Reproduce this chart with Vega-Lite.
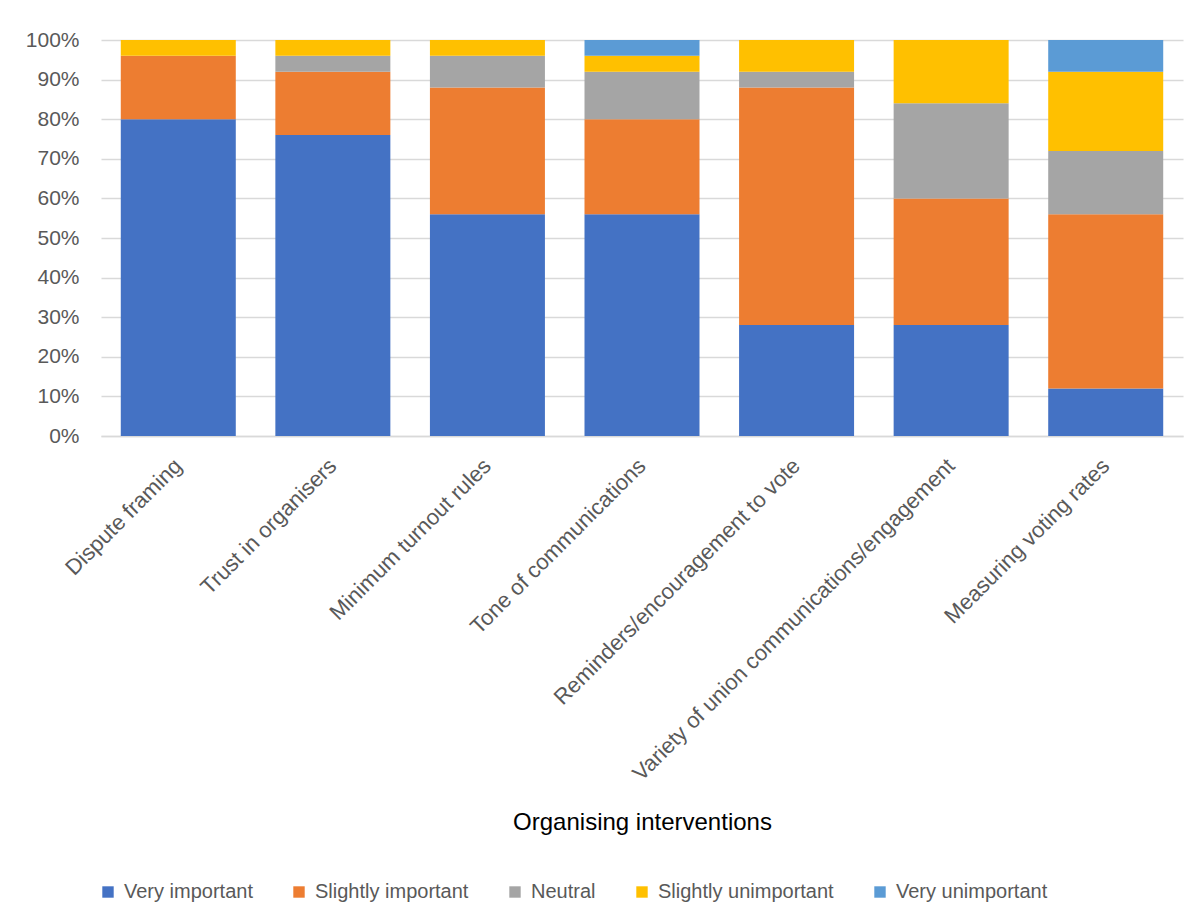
{
  "$schema": "https://vega.github.io/schema/vega-lite/v6.json",
  "width": 1082,
  "height": 396,
  "autosize": {"type": "none"},
  "padding": {"left": 101, "top": 40, "right": 17, "bottom": 488},
  "background": "white",
  "data": {
    "values": [
      {"intervention": "Dispute framing", "rating": "Very important", "k": 1, "pct": 80},
      {"intervention": "Dispute framing", "rating": "Slightly important", "k": 2, "pct": 16},
      {"intervention": "Dispute framing", "rating": "Neutral", "k": 3, "pct": 0},
      {"intervention": "Dispute framing", "rating": "Slightly unimportant", "k": 4, "pct": 4},
      {"intervention": "Dispute framing", "rating": "Very unimportant", "k": 5, "pct": 0},
      {"intervention": "Trust in organisers", "rating": "Very important", "k": 1, "pct": 76},
      {"intervention": "Trust in organisers", "rating": "Slightly important", "k": 2, "pct": 16},
      {"intervention": "Trust in organisers", "rating": "Neutral", "k": 3, "pct": 4},
      {"intervention": "Trust in organisers", "rating": "Slightly unimportant", "k": 4, "pct": 4},
      {"intervention": "Trust in organisers", "rating": "Very unimportant", "k": 5, "pct": 0},
      {"intervention": "Minimum turnout rules", "rating": "Very important", "k": 1, "pct": 56},
      {"intervention": "Minimum turnout rules", "rating": "Slightly important", "k": 2, "pct": 32},
      {"intervention": "Minimum turnout rules", "rating": "Neutral", "k": 3, "pct": 8},
      {"intervention": "Minimum turnout rules", "rating": "Slightly unimportant", "k": 4, "pct": 4},
      {"intervention": "Minimum turnout rules", "rating": "Very unimportant", "k": 5, "pct": 0},
      {"intervention": "Tone of communications", "rating": "Very important", "k": 1, "pct": 56},
      {"intervention": "Tone of communications", "rating": "Slightly important", "k": 2, "pct": 24},
      {"intervention": "Tone of communications", "rating": "Neutral", "k": 3, "pct": 12},
      {"intervention": "Tone of communications", "rating": "Slightly unimportant", "k": 4, "pct": 4},
      {"intervention": "Tone of communications", "rating": "Very unimportant", "k": 5, "pct": 4},
      {"intervention": "Reminders/encouragement to vote", "rating": "Very important", "k": 1, "pct": 28},
      {"intervention": "Reminders/encouragement to vote", "rating": "Slightly important", "k": 2, "pct": 60},
      {"intervention": "Reminders/encouragement to vote", "rating": "Neutral", "k": 3, "pct": 4},
      {"intervention": "Reminders/encouragement to vote", "rating": "Slightly unimportant", "k": 4, "pct": 8},
      {"intervention": "Reminders/encouragement to vote", "rating": "Very unimportant", "k": 5, "pct": 0},
      {"intervention": "Variety of union communications/engagement", "rating": "Very important", "k": 1, "pct": 28},
      {"intervention": "Variety of union communications/engagement", "rating": "Slightly important", "k": 2, "pct": 32},
      {"intervention": "Variety of union communications/engagement", "rating": "Neutral", "k": 3, "pct": 24},
      {"intervention": "Variety of union communications/engagement", "rating": "Slightly unimportant", "k": 4, "pct": 16},
      {"intervention": "Variety of union communications/engagement", "rating": "Very unimportant", "k": 5, "pct": 0},
      {"intervention": "Measuring voting rates", "rating": "Very important", "k": 1, "pct": 12},
      {"intervention": "Measuring voting rates", "rating": "Slightly important", "k": 2, "pct": 44},
      {"intervention": "Measuring voting rates", "rating": "Neutral", "k": 3, "pct": 16},
      {"intervention": "Measuring voting rates", "rating": "Slightly unimportant", "k": 4, "pct": 20},
      {"intervention": "Measuring voting rates", "rating": "Very unimportant", "k": 5, "pct": 8}
    ]
  },
  "mark": {"type": "bar"},
  "encoding": {
    "x": {
      "field": "intervention",
      "type": "nominal",
      "sort": ["Dispute framing", "Trust in organisers", "Minimum turnout rules", "Tone of communications", "Reminders/encouragement to vote", "Variety of union communications/engagement", "Measuring voting rates"],
      "scale": {"paddingInner": 0.256, "paddingOuter": 0.128},
      "axis": {
        "title": "Organising interventions",
        "titleFont": "Liberation Sans",
        "titleFontSize": 24,
        "titleFontWeight": "normal",
        "titleColor": "#000000",
        "titleBaseline": "middle",
        "titleY": 386,
        "labelAngle": -45,
        "labelAlign": "right",
        "labelBaseline": "middle",
        "labelFont": "Liberation Sans",
        "labelFontSize": 22,
        "labelColor": "#595959",
        "labelPadding": 26,
        "labelLimit": 600,
        "ticks": false,
        "domainColor": "#D9D9D9",
        "domainWidth": 1.5
      }
    },
    "y": {
      "field": "pct",
      "type": "quantitative",
      "stack": "normalize",
      "scale": {"domain": [0, 1]},
      "axis": {
        "title": null,
        "format": ".0%",
        "values": [0, 0.1, 0.2, 0.3, 0.4, 0.5, 0.6, 0.7, 0.8, 0.9, 1],
        "labelFont": "Liberation Sans",
        "labelFontSize": 21,
        "labelColor": "#595959",
        "labelPadding": 22,
        "ticks": false,
        "domain": false,
        "grid": true,
        "gridColor": "#D9D9D9",
        "gridWidth": 1.5
      }
    },
    "color": {
      "field": "rating",
      "type": "nominal",
      "scale": {
        "domain": ["Very important", "Slightly important", "Neutral", "Slightly unimportant", "Very unimportant"],
        "range": ["#4472C4", "#ED7D31", "#A5A5A5", "#FFC000", "#5B9BD5"]
      },
      "legend": {
        "title": null,
        "orient": "none",
        "direction": "horizontal",
        "legendX": -3,
        "legendY": 842,
        "columns": 5,
        "gridAlign": "each",
        "columnPadding": 36,
        "symbolType": "square",
        "symbolSize": 130,
        "symbolStrokeWidth": 0,
        "symbolOpacity": 1,
        "labelFont": "Liberation Sans",
        "labelFontSize": 20,
        "labelColor": "#595959",
        "labelOffset": 6,
        "labelLimit": 400
      }
    },
    "order": {"field": "k", "type": "quantitative", "sort": "ascending"}
  },
  "config": {
    "view": {"stroke": null}
  }
}
